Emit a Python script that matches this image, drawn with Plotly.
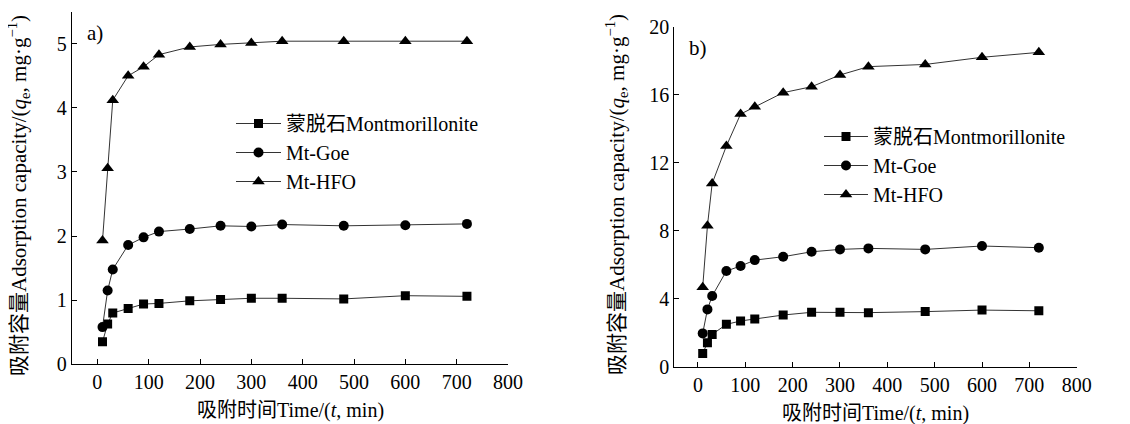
import plotly.graph_objects as go

time_min = [10, 20, 30, 60, 90, 120, 180, 240, 300, 360, 480, 600, 720]

# Panel a
a_mont = [0.35, 0.63, 0.80, 0.87, 0.94, 0.95, 0.99, 1.01, 1.03, 1.03, 1.02, 1.07, 1.06]
a_goe = [0.58, 1.15, 1.48, 1.86, 1.98, 2.07, 2.11, 2.16, 2.15, 2.18, 2.16, 2.17, 2.19]
a_hfo = [1.93, 3.06, 4.12, 4.50, 4.64, 4.83, 4.95, 4.99, 5.01, 5.04, 5.04, 5.04, 5.04]

# Panel b
b_mont = [0.78, 1.41, 1.90, 2.49, 2.69, 2.80, 3.04, 3.20, 3.20, 3.18, 3.24, 3.33, 3.29]
b_goe = [1.96, 3.37, 4.16, 5.63, 5.92, 6.27, 6.47, 6.76, 6.90, 6.96, 6.90, 7.10, 7.00]
b_hfo = [4.67, 8.29, 10.78, 12.98, 14.86, 15.29, 16.12, 16.47, 17.16, 17.65, 17.78, 18.20, 18.49]

CJK = "Noto Sans CJK SC"
cjk = lambda s: "<span style='font-family:" + CJK + "'>" + s + "</span>"

names = [cjk("蒙脱石") + "Montmorillonite", "Mt-Goe", "Mt-HFO"]
symbols = ["square", "circle", "triangle-up"]
sizes = [9, 10, 11]

FONT = "Liberation Serif, Noto Sans CJK SC, serif"

# page body has an 8px margin -> figure is placed at (8, 8)
W, H, OFF = 1122, 416, 8


def px(X):
    return (X - OFF) / W


def py(Y):
    return 1 - (Y - OFF) / H


fig = go.Figure()

for i, ys in enumerate([a_mont, a_goe, a_hfo]):
    fig.add_trace(go.Scatter(
        x=time_min, y=ys, mode="lines+markers", name=names[i],
        line=dict(color="#333333", width=1),
        marker=dict(symbol=symbols[i], size=sizes[i], color="black"),
        xaxis="x", yaxis="y", legend="legend"))

for i, ys in enumerate([b_mont, b_goe, b_hfo]):
    fig.add_trace(go.Scatter(
        x=time_min, y=ys, mode="lines+markers", name=names[i],
        line=dict(color="#333333", width=1),
        marker=dict(symbol=symbols[i], size=sizes[i], color="black"),
        xaxis="x2", yaxis="y2", legend="legend2"))

axis_common = dict(
    showline=True, linecolor="black", linewidth=1, showgrid=False, zeroline=False,
    ticks="inside", ticklen=5, tickcolor="black", tickwidth=1, automargin=False,
    tickfont=dict(family=FONT, size=20, color="black"), mirror=False,
)

legend_font = dict(family=FONT, size=20, color="black")
xt = [0, 100, 200, 300, 400, 500, 600, 700, 800]

fig.update_layout(
    width=W, height=H,
    margin=dict(l=0, r=0, t=0, b=0, autoexpand=False),
    paper_bgcolor="white", plot_bgcolor="white",
    font=dict(family=FONT, size=20, color="black"),
    xaxis=dict(domain=[px(71.7), px(508)], range=[-50, 800], tickvals=xt, anchor="y", **axis_common),
    yaxis=dict(domain=[py(364.3), py(11.7)], range=[0, 5.5], tickvals=[0, 1, 2, 3, 4, 5],
               anchor="x", **axis_common),
    xaxis2=dict(domain=[px(674.3), px(1076.7)], range=[-50, 800], tickvals=xt, anchor="y2", **axis_common),
    yaxis2=dict(domain=[py(366.7), py(26.7)], range=[0, 20], tickvals=[0, 4, 8, 12, 16, 20],
                anchor="x2", **axis_common),
    legend=dict(x=px(231), y=py(104), xanchor="left", yanchor="top",
                bgcolor="rgba(0,0,0,0)", font=legend_font, itemwidth=45,
                tracegroupgap=0),
    legend2=dict(x=px(819), y=py(117), xanchor="left", yanchor="top",
                 bgcolor="rgba(0,0,0,0)", font=legend_font, itemwidth=44,
                 tracegroupgap=0),
    showlegend=True,
)

ytitle = cjk("吸附容\u91cf") + "Adsorption capacity/(<i>q</i><sub>e</sub>, mg·g<sup>−1</sup>)"
xtitle = cjk("吸附时间") + "Time/(<i>t</i>, min)"

annotations = [
    dict(text=xtitle, x=px(290), y=py(408), xref="paper", yref="paper",
         showarrow=False, xanchor="center", yanchor="middle", font=dict(family=FONT, size=20)),
    dict(text=xtitle, x=px(875.5), y=py(411), xref="paper", yref="paper",
         showarrow=False, xanchor="center", yanchor="middle", font=dict(family=FONT, size=20)),
    dict(text=ytitle, x=px(18), y=py(196), xref="paper", yref="paper", textangle=-90,
         showarrow=False, xanchor="center", yanchor="middle", font=dict(family=FONT, size=21)),
    dict(text=ytitle, x=px(615), y=py(195), xref="paper", yref="paper", textangle=-90,
         showarrow=False, xanchor="center", yanchor="middle", font=dict(family=FONT, size=21)),
    dict(text="a)", x=px(85), y=py(33), xref="paper", yref="paper",
         showarrow=False, xanchor="left", yanchor="middle", font=dict(family=FONT, size=21)),
    dict(text="b)", x=px(687), y=py(48), xref="paper", yref="paper",
         showarrow=False, xanchor="left", yanchor="middle", font=dict(family=FONT, size=21)),
]
fig.update_layout(annotations=annotations)

fig.write_html("out.html")
